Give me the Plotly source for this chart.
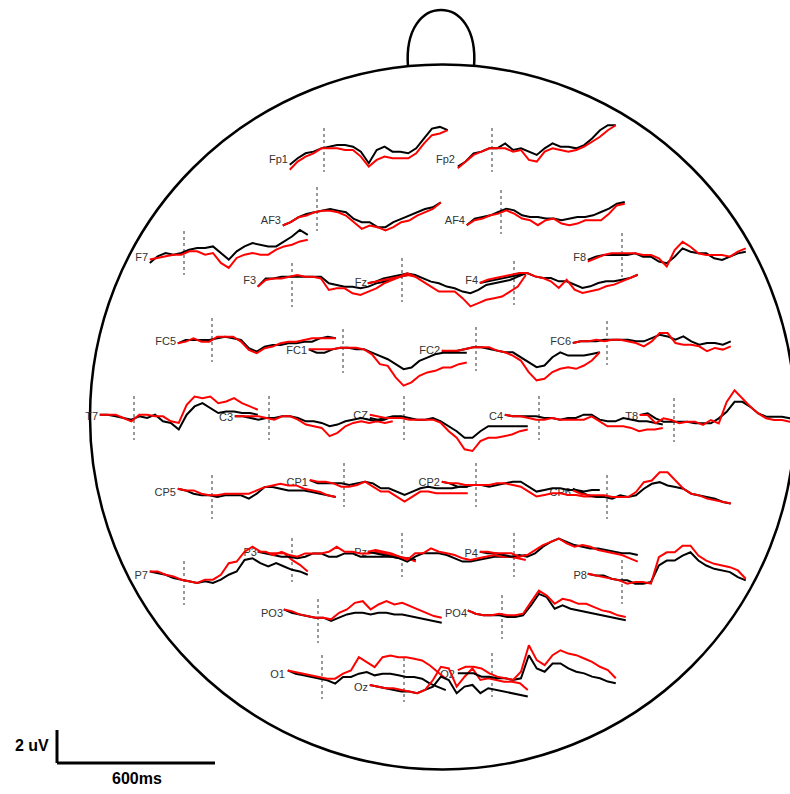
import plotly.graph_objects as go

# ---------------- data (microvolts, sampled every 30 ms) ----------------
TIMES_MS = [-130, -100, -70, -40, -10, 20, 50, 80, 110, 140, 170,
            200, 230, 260, 290, 320, 350, 380, 410, 440, 470]

CHANNELS = ["Fp1", "Fp2", "AF3", "AF4", "F7", "F8", "F3", "Fz", "F4",
            "FC5", "FC1", "FC2", "FC6", "T7", "C3", "CZ", "C4", "T8",
            "CP5", "CP1", "CP2", "CP6", "P7", "P3", "Pz", "P4", "P8",
            "PO3", "PO4", "O1", "Oz", "O2"]

FP1_BLACK = [-0.9, -0.5, -0.2, -0.1, 0.1, 0.2, 0.3, 0.3, 0.2, -0.1, -0.8, 0.0, 0.2, -0.1, -0.1, -0.2, 0.1, 0.7, 1.3, 1.4, 1.2]
FP1_RED = [-1.2, -0.7, -0.4, -0.2, 0.1, 0.1, 0.1, 0.0, 0.0, -0.4, -1.0, -0.6, -0.4, -0.5, -0.5, -0.5, -0.2, 0.4, 0.9, 1.0, 1.2]
FP2_BLACK = [-1.0, -0.7, -0.2, -0.1, 0.1, 0.1, 0.4, 0.0, 0.1, -0.1, -0.3, 0.1, 0.4, 0.2, 0.2, 0.1, 0.3, 0.7, 1.2, 1.5, 1.5]
FP2_RED = [-1.1, -0.7, -0.3, -0.1, 0.1, 0.1, 0.1, -0.1, 0.0, -0.6, -0.7, -0.1, 0.1, 0.0, -0.1, 0.0, 0.2, 0.5, 0.8, 1.2, 1.5]
AF3_BLACK = [-1.0, -0.8, -0.5, -0.3, -0.2, -0.1, 0.0, -0.1, -0.2, -0.6, -0.8, -0.8, -1.1, -1.1, -0.8, -0.6, -0.4, -0.2, 0.0, 0.1, 0.4]
AF3_RED = [-1.0, -0.8, -0.5, -0.4, -0.2, -0.1, -0.1, -0.2, -0.4, -0.8, -1.2, -1.0, -1.1, -1.3, -1.1, -0.8, -0.7, -0.4, -0.2, 0.0, 0.4]
AF4_BLACK = [-0.8, -0.4, -0.3, -0.2, 0.0, 0.2, 0.1, -0.2, -0.3, -0.3, -0.4, -0.4, -0.5, -0.4, -0.3, -0.3, -0.2, 0.0, 0.2, 0.5, 0.6]
AF4_RED = [-0.8, -0.5, -0.4, -0.2, -0.1, 0.1, -0.1, -0.4, -0.5, -0.8, -0.5, -0.4, -0.7, -0.8, -0.7, -0.5, -0.5, -0.5, -0.1, 0.4, 0.5]
F7_BLACK = [-0.6, -0.2, 0.0, -0.1, 0.0, 0.2, 0.3, 0.3, 0.4, 0.0, -0.4, 0.1, 0.4, 0.6, 0.5, 0.4, 0.4, 0.7, 1.0, 1.4, 1.1]
F7_RED = [-0.4, -0.3, -0.2, -0.1, -0.1, 0.1, 0.1, -0.1, 0.0, -0.6, -0.9, -0.3, -0.1, 0.0, -0.1, -0.1, 0.2, 0.4, 0.5, 0.7, 0.8]
F8_BLACK = [-0.3, -0.1, 0.0, 0.0, 0.0, 0.0, 0.1, -0.1, -0.1, -0.4, -0.5, -0.1, 0.4, 0.2, 0.1, 0.1, -0.2, -0.3, -0.1, 0.1, 0.2]
F8_RED = [-0.4, -0.2, 0.0, 0.1, 0.1, 0.1, 0.1, 0.0, 0.0, -0.2, -0.7, 0.3, 0.8, 0.5, 0.1, 0.0, 0.0, 0.0, -0.1, 0.2, 0.4]
F3_BLACK = [-0.1, 0.4, 0.4, 0.5, 0.5, 0.5, 0.5, 0.5, 0.5, 0.1, 0.0, -0.1, -0.1, -0.2, -0.1, 0.1, 0.2, 0.4, 0.5, 0.6, 0.6]
F3_RED = [-0.1, 0.3, 0.4, 0.4, 0.5, 0.6, 0.5, 0.5, 0.4, -0.3, -0.2, -0.2, -0.5, -0.6, -0.4, -0.2, 0.1, 0.3, 0.5, 0.6, 0.5]
FZ_BLACK = [-0.2, -0.1, 0.1, 0.2, 0.3, 0.4, 0.3, 0.1, -0.1, -0.2, -0.4, -0.5, -0.7, -0.8, -0.6, -0.3, -0.2, -0.1, 0.0, 0.2, 0.4]
FZ_RED = [-0.2, -0.1, 0.0, 0.1, 0.2, 0.4, 0.2, -0.1, -0.4, -0.7, -0.7, -0.7, -1.1, -1.6, -1.4, -1.2, -1.1, -1.0, -0.7, -0.4, 0.3]
F4_BLACK = [0.0, 0.1, 0.2, 0.3, 0.4, 0.5, 0.6, 0.4, 0.3, 0.3, 0.1, 0.1, -0.1, -0.3, -0.2, 0.0, 0.1, 0.1, 0.2, 0.3, 0.5]
F4_RED = [0.0, 0.2, 0.3, 0.4, 0.5, 0.6, 0.6, 0.4, 0.3, 0.1, -0.3, 0.2, -0.4, -0.6, -0.5, -0.4, -0.2, -0.1, 0.1, 0.3, 0.5]
FC5_BLACK = [-0.2, 0.0, 0.0, 0.0, 0.0, 0.1, 0.2, 0.1, 0.0, -0.5, -0.7, -0.4, -0.3, -0.3, -0.2, -0.2, -0.1, -0.1, 0.1, 0.2, 0.1]
FC5_RED = [-0.2, -0.1, 0.1, -0.1, -0.1, 0.2, 0.2, 0.2, -0.1, -0.6, -0.8, -0.5, -0.4, -0.2, -0.1, -0.1, 0.0, 0.1, 0.1, 0.1, 0.1]
FC1_BLACK = [0.1, -0.1, -0.1, 0.1, 0.2, 0.2, 0.1, 0.1, -0.1, -0.3, -0.5, -0.8, -1.1, -1.0, -0.6, -0.4, -0.2, -0.1, -0.1, -0.1, -0.1]
FC1_RED = [0.1, 0.1, 0.1, 0.1, 0.2, 0.2, 0.2, 0.1, -0.2, -0.8, -0.9, -1.6, -2.1, -1.9, -1.5, -1.3, -1.2, -1.0, -1.0, -0.8, -0.7]
FC2_BLACK = [-0.1, -0.2, -0.1, 0.0, 0.1, 0.1, 0.0, -0.1, -0.2, -0.2, -0.5, -0.8, -1.1, -1.0, -0.5, -0.2, -0.4, -0.4, -0.4, -0.3, -0.2]
FC2_RED = [-0.1, -0.1, -0.1, 0.0, 0.1, 0.1, 0.1, -0.1, -0.2, -0.4, -0.7, -1.4, -1.9, -1.8, -1.4, -1.2, -1.1, -1.2, -1.0, -0.7, -0.2]
FC6_BLACK = [0.0, 0.1, 0.1, 0.1, 0.2, 0.2, 0.2, 0.2, 0.1, 0.1, 0.3, 0.5, 0.4, 0.2, 0.4, 0.1, -0.1, 0.0, 0.0, -0.1, 0.1]
FC6_RED = [0.0, 0.1, 0.1, 0.2, 0.1, 0.2, 0.2, 0.1, 0.0, -0.2, 0.1, 0.6, 0.6, 0.0, -0.1, -0.1, -0.2, -0.5, -0.3, -0.4, -0.2]
T7_BLACK = [0.2, 0.2, 0.1, 0.0, -0.1, 0.1, 0.0, 0.2, -0.2, -0.3, -0.7, 0.2, 0.7, 0.9, 0.6, 0.3, 0.4, 0.4, 0.3, 0.3, 0.2]
T7_RED = [0.2, 0.2, 0.2, 0.0, -0.2, 0.2, 0.2, 0.1, 0.1, -0.2, -0.3, 0.8, 1.3, 1.2, 1.3, 0.9, 1.0, 1.2, 0.9, 0.7, 0.5]
C3_BLACK = [0.1, 0.1, 0.0, -0.1, 0.0, 0.0, 0.1, 0.1, 0.0, -0.2, -0.2, -0.3, -0.5, -0.4, -0.2, -0.1, 0.0, -0.1, -0.2, -0.1, 0.1]
C3_RED = [0.1, 0.1, 0.1, 0.1, 0.0, -0.1, 0.1, 0.1, -0.1, -0.4, -0.5, -0.6, -1.1, -0.9, -0.5, -0.3, -0.2, -0.3, -0.2, -0.3, -0.2]
CZ_BLACK = [0.0, -0.1, 0.0, 0.1, 0.1, 0.0, -0.1, -0.1, 0.0, -0.2, -0.5, -0.8, -1.2, -1.2, -0.8, -0.5, -0.5, -0.5, -0.5, -0.5, -0.5]
CZ_RED = [0.2, 0.1, 0.0, 0.0, 0.0, -0.1, -0.1, -0.1, -0.1, -0.3, -0.8, -1.2, -1.9, -2.0, -1.4, -1.2, -1.2, -1.1, -1.0, -0.8, -0.7]
C4_BLACK = [0.2, 0.1, 0.1, 0.1, 0.1, 0.0, 0.0, -0.1, 0.0, 0.0, 0.2, 0.2, -0.1, -0.2, -0.2, 0.0, -0.1, -0.2, -0.2, -0.3, -0.4]
C4_RED = [0.2, 0.1, 0.1, 0.0, -0.1, -0.1, 0.0, -0.1, -0.1, -0.1, -0.1, 0.1, -0.2, -0.5, -0.5, -0.5, -0.6, -0.8, -0.7, -0.7, -0.6]
T8_BLACK = [0.3, 0.4, 0.1, -0.1, -0.1, -0.1, -0.1, -0.2, -0.2, -0.2, 0.1, 0.5, 1.1, 1.1, 0.8, 0.4, 0.2, 0.2, 0.2, 0.1, 0.0]
T8_RED = [0.3, 0.3, -0.2, 0.1, 0.0, -0.2, -0.1, -0.1, -0.3, 0.0, -0.2, 1.1, 1.8, 1.3, 0.8, 0.4, 0.1, 0.0, 0.0, -0.1, -0.2]
CP5_BLACK = [0.5, 0.4, 0.2, 0.1, 0.1, 0.0, 0.1, 0.1, 0.1, -0.1, 0.2, 0.6, 0.6, 0.5, 0.4, 0.4, 0.4, 0.3, 0.2, 0.1, 0.0]
CP5_RED = [0.5, 0.4, 0.4, 0.2, 0.1, 0.1, 0.2, 0.2, 0.2, 0.2, 0.4, 0.6, 0.7, 0.8, 0.7, 0.7, 0.5, 0.4, 0.3, 0.1, 0.0]
CP1_BLACK = [0.3, 0.1, 0.1, 0.1, 0.1, 0.0, 0.1, 0.2, 0.1, -0.2, -0.2, -0.4, -0.6, -0.4, -0.2, -0.1, -0.2, -0.2, -0.2, -0.1, -0.1]
CP1_RED = [0.3, 0.2, 0.2, 0.1, -0.1, -0.1, 0.0, 0.2, -0.1, -0.4, -0.4, -0.7, -1.0, -0.7, -0.4, -0.4, -0.5, -0.5, -0.5, -0.5, -0.5]
CP2_BLACK = [0.2, 0.1, -0.1, -0.1, 0.0, 0.0, -0.1, 0.0, 0.1, 0.2, 0.2, -0.1, -0.4, -0.3, -0.2, -0.2, -0.3, -0.3, -0.4, -0.3, -0.3]
CP2_RED = [0.2, 0.1, 0.1, 0.0, 0.0, 0.0, 0.0, 0.1, 0.1, 0.0, -0.1, -0.4, -0.7, -0.6, -0.5, -0.5, -0.6, -0.6, -0.7, -0.7, -0.7]
CP6_BLACK = [0.5, 0.3, 0.1, 0.0, 0.0, -0.1, 0.1, 0.0, 0.1, 0.5, 0.8, 0.9, 0.7, 0.6, 0.5, 0.2, 0.1, 0.0, -0.1, -0.3, -0.4]
CP6_RED = [0.4, 0.2, 0.1, 0.1, 0.1, 0.0, 0.0, 0.0, 0.3, 0.9, 1.0, 1.5, 1.5, 1.0, 0.5, 0.2, 0.1, -0.1, -0.2, -0.3, -0.4]
P7_BLACK = [0.7, 0.6, 0.5, 0.3, 0.2, 0.1, 0.0, 0.1, 0.0, 0.2, 0.5, 0.7, 1.4, 1.5, 1.2, 1.0, 1.2, 1.0, 0.8, 0.7, 0.5]
P7_RED = [0.7, 0.7, 0.5, 0.4, 0.2, 0.1, 0.0, 0.2, 0.2, 0.5, 1.2, 1.3, 1.9, 2.2, 1.9, 1.8, 1.8, 1.8, 1.4, 1.1, 0.7]
P3_BLACK = [0.5, 0.4, 0.3, 0.2, 0.2, 0.1, 0.2, 0.4, 0.4, 0.2, 0.2, 0.4, 0.4, 0.2, 0.2, 0.2, 0.2, 0.2, 0.1, 0.1, 0.0]
P3_RED = [0.5, 0.5, 0.3, 0.5, 0.3, 0.2, 0.4, 0.4, 0.4, 0.5, 0.8, 0.5, 0.5, 0.4, 0.4, 0.5, 0.4, 0.3, 0.2, 0.1, -0.1]
PZ_BLACK = [0.2, 0.1, 0.0, -0.1, -0.2, -0.4, -0.1, 0.1, 0.1, 0.1, 0.0, -0.2, -0.4, -0.4, -0.3, -0.2, -0.1, -0.1, -0.1, -0.1, 0.0]
PZ_RED = [0.2, 0.3, 0.2, 0.1, -0.1, -0.3, 0.1, 0.1, 0.4, 0.2, 0.1, 0.0, -0.2, -0.3, -0.2, -0.1, 0.0, -0.1, -0.1, -0.2, -0.3]
P4_BLACK = [0.2, 0.1, 0.1, 0.0, -0.1, 0.0, -0.1, 0.1, 0.5, 0.8, 1.0, 0.8, 0.6, 0.5, 0.4, 0.4, 0.3, 0.2, 0.1, 0.1, 0.0]
P4_RED = [0.2, 0.2, 0.1, 0.1, 0.1, -0.1, 0.0, 0.3, 0.6, 0.8, 1.0, 0.7, 0.5, 0.6, 0.5, 0.3, 0.2, 0.1, 0.0, -0.2, -0.4]
P8_BLACK = [0.5, 0.4, 0.4, 0.2, 0.1, 0.1, -0.1, -0.1, 0.0, 1.0, 1.3, 1.3, 1.6, 1.8, 1.3, 1.0, 0.8, 0.7, 0.6, 0.3, 0.1]
P8_RED = [0.5, 0.4, 0.3, 0.2, 0.1, -0.1, 0.0, 0.0, -0.1, 1.5, 1.8, 1.8, 2.2, 2.2, 1.6, 1.3, 1.1, 1.0, 0.9, 0.7, 0.2]
PO3_BLACK = [0.7, 0.5, 0.4, 0.3, 0.2, 0.2, 0.0, 0.2, 0.4, 0.5, 0.5, 0.4, 0.5, 0.5, 0.4, 0.4, 0.3, 0.2, 0.1, 0.0, -0.1]
PO3_RED = [0.7, 0.6, 0.4, 0.3, 0.2, 0.2, 0.1, 0.5, 0.7, 1.1, 1.2, 0.7, 1.0, 1.2, 1.0, 1.1, 0.9, 0.7, 0.5, 0.3, 0.2]
PO4_BLACK = [0.4, 0.2, 0.1, 0.1, 0.1, 0.0, 0.0, 0.1, 0.7, 1.4, 1.2, 0.5, 0.7, 0.5, 0.4, 0.3, 0.2, 0.1, 0.0, -0.1, -0.2]
PO4_RED = [0.4, 0.2, 0.1, 0.1, 0.2, 0.1, 0.1, 0.2, 0.9, 1.6, 1.3, 0.8, 1.1, 1.0, 0.8, 0.8, 0.6, 0.4, 0.3, 0.1, 0.0]
O1_BLACK = [0.4, 0.2, 0.1, 0.0, -0.1, -0.2, -0.4, 0.0, 0.0, 0.2, 0.3, 0.1, 0.2, 0.2, 0.1, 0.0, 0.0, -0.1, -0.4, -0.6, -0.8]
O1_RED = [0.4, 0.3, 0.2, 0.1, 0.0, -0.1, -0.1, 0.2, 0.4, 1.2, 0.9, 0.6, 1.2, 1.3, 1.2, 1.2, 1.1, 1.0, 0.7, 0.3, -0.1]
OZ_BLACK = [-0.3, -0.4, -0.5, -0.6, -0.7, -0.7, -0.8, -0.6, -0.4, 0.2, 0.0, -0.8, -0.4, -0.3, -0.8, -0.5, -0.6, -0.7, -0.8, -0.9, -1.0]
OZ_RED = [-0.3, -0.4, -0.5, -0.5, -0.6, -0.7, -0.8, -0.6, 0.0, 0.8, 0.7, -0.4, 0.2, 0.7, 0.0, 0.1, 0.0, -0.1, -0.1, -0.2, -0.6]
O2_BLACK = [0.1, 0.1, 0.1, -0.1, -0.1, -0.2, -0.2, -0.3, -0.2, 1.2, 0.4, 0.2, 0.7, 0.7, 0.4, 0.2, 0.1, -0.1, -0.2, -0.4, -0.5]
O2_RED = [0.3, 0.5, 0.5, 0.4, 0.1, -0.1, -0.2, -0.3, 0.2, 1.8, 0.9, 0.6, 1.2, 1.5, 1.3, 1.2, 1.0, 0.8, 0.5, 0.3, -0.2]

SERIES = {
    "Fp1": (FP1_BLACK, FP1_RED), "Fp2": (FP2_BLACK, FP2_RED),
    "AF3": (AF3_BLACK, AF3_RED), "AF4": (AF4_BLACK, AF4_RED),
    "F7": (F7_BLACK, F7_RED), "F8": (F8_BLACK, F8_RED),
    "F3": (F3_BLACK, F3_RED), "Fz": (FZ_BLACK, FZ_RED), "F4": (F4_BLACK, F4_RED),
    "FC5": (FC5_BLACK, FC5_RED), "FC1": (FC1_BLACK, FC1_RED),
    "FC2": (FC2_BLACK, FC2_RED), "FC6": (FC6_BLACK, FC6_RED),
    "T7": (T7_BLACK, T7_RED), "C3": (C3_BLACK, C3_RED), "CZ": (CZ_BLACK, CZ_RED),
    "C4": (C4_BLACK, C4_RED), "T8": (T8_BLACK, T8_RED),
    "CP5": (CP5_BLACK, CP5_RED), "CP1": (CP1_BLACK, CP1_RED),
    "CP2": (CP2_BLACK, CP2_RED), "CP6": (CP6_BLACK, CP6_RED),
    "P7": (P7_BLACK, P7_RED), "P3": (P3_BLACK, P3_RED), "Pz": (PZ_BLACK, PZ_RED),
    "P4": (P4_BLACK, P4_RED), "P8": (P8_BLACK, P8_RED),
    "PO3": (PO3_BLACK, PO3_RED), "PO4": (PO4_BLACK, PO4_RED),
    "O1": (O1_BLACK, O1_RED), "Oz": (OZ_BLACK, OZ_RED), "O2": (O2_BLACK, O2_RED),
}

# ---------------- layout (page pixels) ----------------
# channel: (x of time zero, baseline y, label right edge x, label y)
POSITIONS = {
    "Fp1": (324, 150, 288, 160), "Fp2": (492, 150, 455, 160),
    "AF3": (317, 209, 281, 221), "AF4": (501, 212, 465, 221),
    "F7": (184, 253, 148, 258), "F8": (622, 255, 586, 258),
    "F3": (292, 285, 256, 281), "Fz": (402, 280, 367, 283), "F4": (514, 283, 478, 281),
    "FC5": (212, 340, 176, 342), "FC1": (343, 351, 307, 351),
    "FC2": (476, 349, 440, 351), "FC6": (607, 343, 571, 342),
    "T7": (134, 418, 98, 417), "C3": (269, 418, 233, 418), "CZ": (404, 418, 368, 416),
    "C4": (539, 418, 503, 417), "T8": (674, 420, 638, 417),
    "CP5": (212, 497, 176, 493), "CP1": (344, 485, 308, 483),
    "CP2": (476, 485, 440, 483), "CP6": (607, 497, 571, 493),
    "P7": (184, 583, 148, 576), "P3": (292, 560, 257, 553), "Pz": (402, 555, 367, 553),
    "P4": (514, 555, 478, 554), "P8": (622, 582, 587, 576),
    "PO3": (318, 621, 283, 614), "PO4": (502, 617, 467, 614),
    "O1": (322, 677, 285, 675), "Oz": (404, 680, 368, 688), "O2": (492, 675, 455, 675),
}

PX_PER_MS = 158 / 600.0
PX_PER_UV = 16.5
HEAD_CX, HEAD_CY, HEAD_R = 442.5, 417, 352.5
W, H = 790, 794

fig = go.Figure()

# channel labels (drawn first so traces pass over them)
fig.add_trace(go.Scatter(
    x=[POSITIONS[c][2] for c in CHANNELS],
    y=[POSITIONS[c][3] for c in CHANNELS],
    text=CHANNELS, mode="text", textposition="middle left",
    textfont=dict(family="Liberation Sans, Arial", size=11, color="#333333"),
    hoverinfo="skip", showlegend=False))

shapes = []
for ch in CHANNELS:
    xz, y0, _, _ = POSITIONS[ch]
    xs = [xz + t * PX_PER_MS for t in TIMES_MS]
    black, red = SERIES[ch]
    for vals, col in ((black, "#000000"), (red, "#ff0000")):
        fig.add_trace(go.Scatter(
            x=xs, y=[y0 - v * PX_PER_UV for v in vals], mode="lines",
            line=dict(color=col, width=2), hoverinfo="skip", showlegend=False))
    shapes.append(dict(type="line", x0=xz, x1=xz, y0=y0 - 22, y1=y0 + 22,
                       line=dict(color="#333333", width=1, dash="dot"), layer="below"))

# head outline and nose
shapes.append(dict(type="circle", x0=HEAD_CX - HEAD_R, x1=HEAD_CX + HEAD_R,
                   y0=HEAD_CY - HEAD_R, y1=HEAD_CY + HEAD_R,
                   line=dict(color="black", width=2.5), layer="below"))
shapes.append(dict(type="path",
                   path="M 408,67 C 405,28 423,10 441,10 C 459,10 477,28 474,67",
                   line=dict(color="black", width=2.5), layer="below"))

# scale bar
SB_X, SB_Y = 57, 763
shapes.append(dict(type="line", x0=SB_X, x1=SB_X, y0=SB_Y - 2 * PX_PER_UV, y1=SB_Y,
                   line=dict(color="black", width=3)))
shapes.append(dict(type="line", x0=SB_X, x1=SB_X + 600 * PX_PER_MS, y0=SB_Y, y1=SB_Y,
                   line=dict(color="black", width=3)))

annotations = [
    dict(x=SB_X - 6, y=SB_Y - PX_PER_UV - 1, text="<b>2 uV</b>", showarrow=False,
         xanchor="right", yanchor="middle",
         font=dict(family="Liberation Sans, Arial", size=16, color="black")),
    dict(x=SB_X + 80, y=SB_Y + 15, text="<b>600ms</b>", showarrow=False,
         xanchor="center", yanchor="middle",
         font=dict(family="Liberation Sans, Arial", size=16, color="black")),
]

fig.update_layout(
    width=W, height=H, margin=dict(l=0, r=0, t=0, b=0),
    paper_bgcolor="white", plot_bgcolor="white", showlegend=False,
    xaxis=dict(range=[0, W], visible=False, fixedrange=True),
    yaxis=dict(range=[H, 0], visible=False, fixedrange=True),
    shapes=shapes, annotations=annotations,
)

fig.write_html("out.html", config={"displayModeBar": False},
               post_script="document.body.style.margin='0';document.body.style.overflow='hidden';")
